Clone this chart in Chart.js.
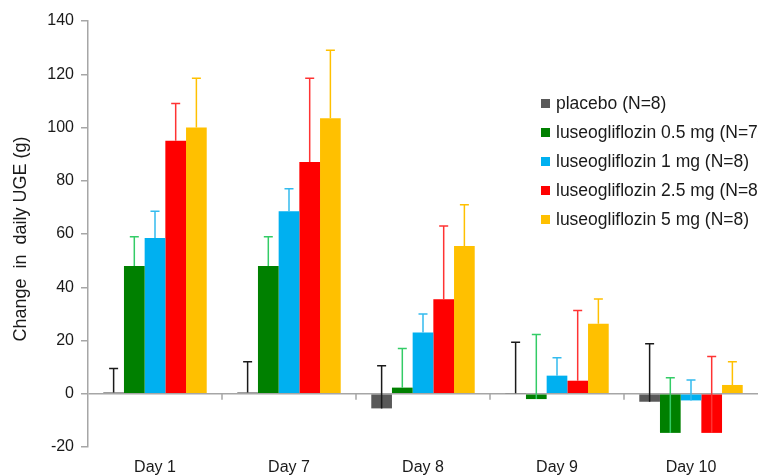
<!DOCTYPE html>
<html>
<head>
<meta charset="utf-8">
<script src="https://cdn.jsdelivr.net/npm/chart.js@4.4.1/dist/chart.umd.min.js"></script>
<style>
  html, body { margin: 0; padding: 0; background: #fff; overflow: hidden; }
  #wrap { width: 758px; height: 475px; position: relative; }
</style>
</head>
<body>
<div id="wrap"><canvas id="uge"></canvas></div>
<script>
// categories
const days = ['Day 1', 'Day 7', 'Day 8', 'Day 9', 'Day 10'];

// mean change in daily UGE (g)
const placebo = [0.5, 0.5, -5.5, 0.2, -3];
const luseo05 = [48, 48, 2.3, -2, -14.7];
const luseo1 = [58.5, 68.5, 23, 6.8, -2.5];
const luseo25 = [95, 87, 35.5, 4.9, -14.7];
const luseo5 = [100, 103.5, 55.5, 26.3, 3.3];

// upper error bars (SD)
const placeboErr = [9, 11.5, 16, 19.1, 21.8];
const luseo05Err = [11, 11, 14.7, 24.3, 20.7];
const luseo1Err = [10, 8.5, 7, 6.7, 7.7];
const luseo25Err = [14, 31.5, 27.5, 26.4, 28.7];
const luseo5Err = [18.5, 25.5, 15.5, 9.3, 8.7];

const seriesNames = ['placebo (N=8)', 'luseogliflozin 0.5 mg (N=7)', 'luseogliflozin 1 mg (N=8)',
    'luseogliflozin 2.5 mg (N=8)', 'luseogliflozin 5 mg (N=8)'];
const yTicks = [-20, 0, 20, 40, 60, 80, 100, 120, 140];

const fillColors = ['#595959', '#008000', '#00b0f0', '#ff0000', '#ffc000'];
const errColors = ['#1a1a1a', '#33cc66', '#33bbee', '#ff3333', '#ffc000'];
const FONT = 'Liberation Sans, Arial, sans-serif';

const errorBars = {
    id: 'errorBars',
    afterDatasetsDraw(chart) {
        const ctx = chart.ctx;
        const y = chart.scales.y;
        ctx.save();
        ctx.lineWidth = 1.5;
        chart.data.datasets.forEach((ds, i) => {
            const meta = chart.getDatasetMeta(i);
            ctx.strokeStyle = errColors[i];
            meta.data.forEach((bar, j) => {
                const top = y.getPixelForValue(ds.data[j] + ds.err[j]);
                const base = y.getPixelForValue(ds.data[j]);
                ctx.beginPath();
                ctx.moveTo(bar.x, base);
                ctx.lineTo(bar.x, top);
                ctx.moveTo(bar.x - 4.5, top);
                ctx.lineTo(bar.x + 4.5, top);
                ctx.stroke();
            });
        });
        // category tick marks on the zero line
        const x = chart.scales.x;
        const y0 = y.getPixelForValue(0);
        ctx.strokeStyle = '#a6a6a6';
        ctx.lineWidth = 1.5;
        for (let k = 1; k < days.length; k++) {
            const bx = (x.getPixelForValue(k - 1) + x.getPixelForValue(k)) / 2;
            ctx.beginPath();
            ctx.moveTo(bx, y0);
            ctx.lineTo(bx, y0 + 6);
            ctx.stroke();
        }
        ctx.restore();
    }
};

const sideLegend = {
    id: 'sideLegend',
    afterDraw(chart) {
        const ctx = chart.ctx;
        ctx.save();
        ctx.font = '17.5px ' + FONT;
        ctx.textBaseline = 'middle';
        chart.data.datasets.forEach((ds, i) => {
            const cy = 103 + i * 29;
            ctx.fillStyle = fillColors[i];
            ctx.fillRect(541, cy - 4, 9, 9);
            ctx.fillStyle = '#1a1a1a';
            ctx.fillText(ds.label, 556, cy + 1);
        });
        ctx.restore();
    }
};

const values = [placebo, luseo05, luseo1, luseo25, luseo5];
const errs = [placeboErr, luseo05Err, luseo1Err, luseo25Err, luseo5Err];

new Chart(document.getElementById('uge'), {
    type: 'bar',
    data: {
        labels: days,
        datasets: values.map((v, i) => ({
            label: seriesNames[i],
            data: v,
            err: errs[i],
            backgroundColor: fillColors[i],
            borderWidth: 0,
            barPercentage: 1,
            categoryPercentage: 0.772
        }))
    },
    options: {
        responsive: true,
        maintainAspectRatio: false,
        animation: false,
        layout: { padding: { top: 21, right: 0, bottom: 0, left: 0 } },
        plugins: {
            legend: { display: false },
            tooltip: { enabled: false }
        },
        scales: {
            x: {
                grid: { display: false, tickLength: 0 },
                border: { display: false },
                ticks: { color: '#1a1a1a', font: { family: FONT, size: 16 }, padding: 11 },
                afterFit(scale) { scale.height = 28; }
            },
            y: {
                min: -20,
                max: 140,
                afterBuildTicks(scale) { scale.ticks = yTicks.map(v => ({ value: v })); },
                grid: {
                    color: c => (c.tick && c.tick.value === 0) ? '#a6a6a6' : 'rgba(0,0,0,0)',
                    lineWidth: 1.5,
                    tickColor: '#a6a6a6',
                    tickLength: 7
                },
                border: { display: true, color: '#a6a6a6', width: 1.5 },
                ticks: { color: '#1a1a1a', font: { family: FONT, size: 16 }, padding: 7 },
                title: {
                    display: true,
                    text: 'Change  in  daily UGE (g)  ',
                    color: '#1a1a1a',
                    font: { family: FONT, size: 18 },
                    padding: { top: 10, bottom: 0 }
                },
                afterFit(scale) { scale.width = 88; }
            }
        }
    },
    plugins: [errorBars, sideLegend]
});
</script>
</body>
</html>
